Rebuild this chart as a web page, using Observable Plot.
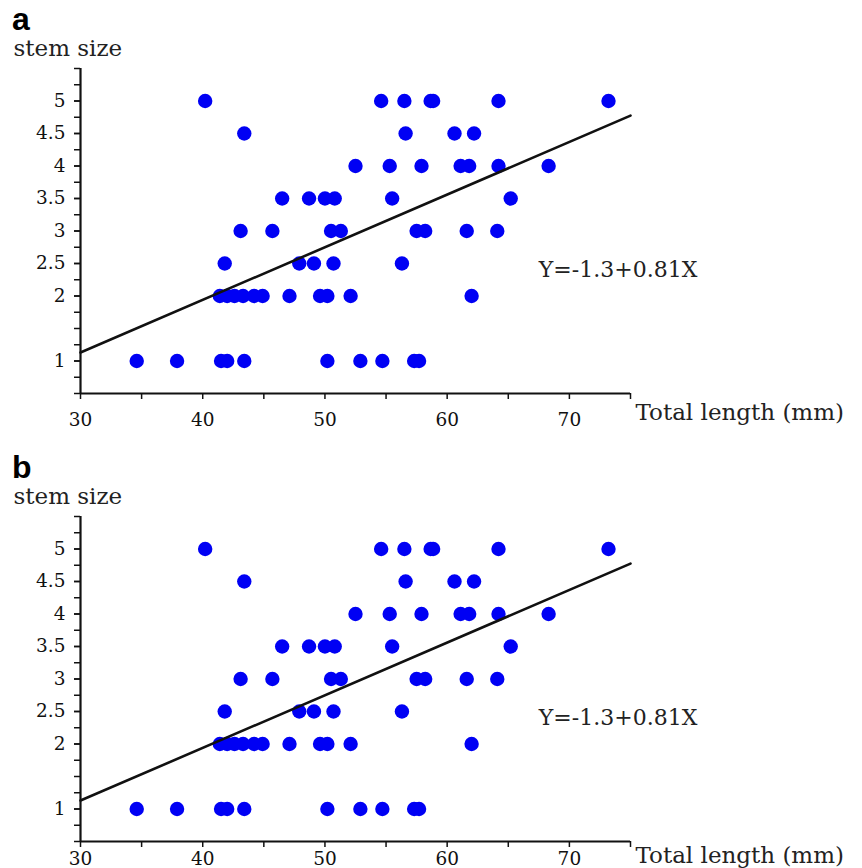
<!DOCTYPE html>
<html><head><meta charset="utf-8">
<script src="https://cdn.jsdelivr.net/npm/d3@7"></script>
<script src="https://cdn.jsdelivr.net/npm/@observablehq/plot@0.6"></script>
<style>
body{margin:0;background:#fff;overflow:hidden;}
.panel{position:relative;width:862px;height:448px;}
.panel svg{position:absolute;left:0;top:0;}
.tag{position:absolute;left:12px;top:3px;font:bold 32px "Liberation Sans",Arial,sans-serif;line-height:32px;z-index:2;}
</style></head><body><div id="root"></div>
<script>
// ---- data ----
const panelTags = ["a", "b"];
const yTitle = "stem size";
const xTitle = "Total length (mm)";
const equationText = "Y=-1.3+0.81X";
const fitIntercept = -1.3;
const fitSlope = 0.081;          // slope as drawn in the figure
const xDomain = [30, 75];
const yDomain = [0.5, 5.5];
const xTickLabels = [30, 40, 50, 60, 70];
const xMinorTicks = [35, 45, 55, 65, 75];
const yTickLabels = [1, 2, 2.5, 3, 3.5, 4, 4.5, 5];
const yMinorTicks = d3.range(0.5, 5.51, 0.25);
const stemLevels = [1, 2, 2.5, 3, 3.5, 4, 4.5, 5];
const lengthsStem1   = [34.6, 37.9, 41.5, 42.0, 43.4, 50.2, 52.9, 54.7, 57.3, 57.7];
const lengthsStem2   = [41.4, 42.0, 42.6, 43.3, 44.2, 44.9, 47.1, 49.6, 50.2, 52.1, 62.0];
const lengthsStem2_5 = [41.8, 47.9, 49.1, 50.7, 56.3];
const lengthsStem3   = [43.1, 45.7, 50.5, 51.3, 57.5, 58.2, 61.6, 64.1];
const lengthsStem3_5 = [46.5, 48.7, 50.0, 50.8, 55.5, 65.2];
const lengthsStem4   = [52.5, 55.3, 57.9, 61.1, 61.8, 64.2, 68.3];
const lengthsStem4_5 = [43.4, 56.6, 60.6, 62.2];
const lengthsStem5   = [40.2, 54.6, 56.5, 58.65, 58.85, 64.2, 73.2];
const equationAt = {x: 67.5, y: 2.4};

// ---- build ----
const rows = [lengthsStem1, lengthsStem2, lengthsStem2_5, lengthsStem3, lengthsStem3_5, lengthsStem4, lengthsStem4_5, lengthsStem5];
const points = rows.flatMap((arr, i) => arr.map(len => ({len, stem: stemLevels[i]})));
const fitLine = xDomain.map(x => ({x, y: fitIntercept + fitSlope * x}));

const root = document.getElementById("root");
panelTags.forEach((tag, i) => {
  const xPad = i === 0 ? 13 : 4;      // panel b's labels sit closer to its axis
  const panel = document.createElement("div");
  panel.className = "panel";
  const t = document.createElement("div");
  t.className = "tag";
  t.textContent = tag;
  panel.appendChild(t);
  const chart = Plot.plot({
    width: 862,
    height: 448,
    marginLeft: 80,
    marginRight: 232,
    marginTop: 68,
    marginBottom: 55,
    style: {fontFamily: "'DejaVu Serif', serif", fontSize: "18.5px", color: "#111", background: "transparent", overflow: "visible"},
    x: {domain: xDomain},
    y: {domain: yDomain},
    marks: [
      Plot.axisX(xTickLabels, {tickSize: 6, tickPadding: xPad, strokeWidth: 1.5, label: null, tickFormat: d => String(d)}),
      Plot.axisX(xMinorTicks, {tickSize: 6, strokeWidth: 1.5, label: null, tickFormat: () => ""}),
      Plot.axisY(yTickLabels, {tickSize: 6, tickPadding: 9, strokeWidth: 1.5, label: null, tickFormat: d => String(d)}),
      Plot.axisY(yMinorTicks, {tickSize: 6, strokeWidth: 1.5, label: null, tickFormat: () => ""}),
      Plot.ruleX([xDomain[0]], {stroke: "#111", strokeWidth: 2.2}),
      Plot.ruleY([yDomain[0]], {stroke: "#111", strokeWidth: 2.2}),
      Plot.dot(points, {x: "len", y: "stem", r: 7.2, fill: "#0000f4", stroke: null}),
      Plot.line(fitLine, {x: "x", y: "y", stroke: "#111", strokeWidth: 2.6}),
      Plot.text([equationText], {x: () => equationAt.x, y: () => equationAt.y, text: d => d, textAnchor: "start", fontSize: 22, fill: "#222"}),
      Plot.text([xTitle], {frameAnchor: "bottom-right", text: d => d, textAnchor: "start", dx: 5, dy: i === 0 ? 26 : 21, fontSize: 23, fill: "#222"}),
      Plot.text([yTitle], {frameAnchor: "top-left", text: d => d, textAnchor: "start", lineAnchor: "bottom", dx: -67, dy: -13, fontSize: 23, fill: "#222"})
    ]
  });
  panel.appendChild(chart);
  root.appendChild(panel);
});
</script>
</body></html>
